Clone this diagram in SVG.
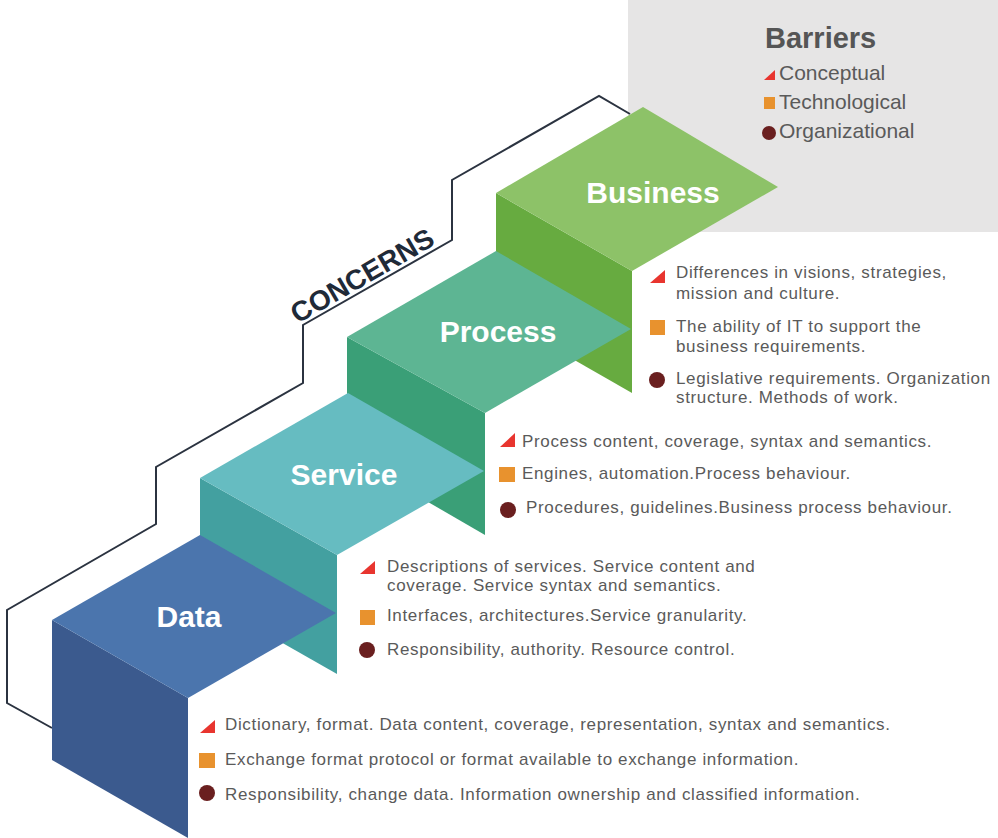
<svg xmlns="http://www.w3.org/2000/svg" width="998" height="838" viewBox="0 0 998 838">
<style>
.lbl{font-family:"Liberation Sans",Arial,sans-serif;font-weight:bold;font-size:30px;fill:#ffffff;text-anchor:middle}
.txt{font-family:"Liberation Sans",Arial,sans-serif;font-size:17px;letter-spacing:0.65px;fill:#5a5a5a}
.leg{font-family:"Liberation Sans",Arial,sans-serif;font-size:21px;fill:#5a5a5a}
.tri{fill:#e8352f}
.sq{fill:#e8922e}
.dot{fill:#6a1f1f}
.outline{fill:none;stroke:#2b3340;stroke-width:2}
</style>
<rect x="0" y="0" width="998" height="838" fill="#ffffff"/>

<g id="legend">
<rect x="628" y="0" width="370" height="232" fill="#e6e5e5"/>
<text x="765" y="48" style="font-family:'Liberation Sans',Arial,sans-serif;font-weight:bold;font-size:29px;fill:#555555">Barriers</text>
<polygon class="tri" points="764,80 775,80 775,70"/>
<text class="leg" x="779" y="80">Conceptual</text>
<rect class="sq" x="764" y="97" width="11" height="12"/>
<text class="leg" x="779" y="109">Technological</text>
<circle class="dot" cx="769" cy="133" r="7"/>
<text class="leg" x="779" y="138">Organizational</text>
</g>

<g id="connectors">
<polyline class="outline" points="630,114 599,96 452,180 452,240 303,325 303,383 156,467 156,524 7,610 7,703 52,728"/>
</g>

<g id="concerns-label">
<text transform="translate(367,284) rotate(-30)" text-anchor="middle" style="font-family:'Liberation Sans',Arial,sans-serif;font-weight:bold;font-size:28px;fill:#1f2a38">CONCERNS</text>
</g>

<g id="business">
<polygon points="496,193 632,271 632,393 496,315" fill="#67ab40"/>
<polygon points="496,193 643,107 778,187 632,271" fill="#8dc268"/>
<text class="lbl" x="653" y="203">Business</text>
</g>

<g id="process">
<polygon points="347,337 485,413 485,535 347,455" fill="#3a9f77"/>
<polygon points="347,337 496,251 631,329 485,413" fill="#5db593"/>
<text class="lbl" x="498" y="342">Process</text>
</g>

<g id="service">
<polygon points="200,478 337,555 337,674 200,596" fill="#43a0a0"/>
<polygon points="200,478 348,393 484,471 337,555" fill="#66bcc1"/>
<text class="lbl" x="344" y="485">Service</text>
</g>

<g id="data">
<polygon points="52,620 188,698 188,838 52,760" fill="#3b5a8e"/>
<polygon points="52,620 200,535 336,613 188,698" fill="#4b75ad"/>
<text class="lbl" x="189" y="627">Data</text>
</g>

<g id="business-barriers">
<polygon class="tri" points="650,283 665,283 665,270"/>
<text class="txt" x="676" y="278">Differences in visions, strategies,</text>
<text class="txt" x="676" y="299">mission and culture.</text>
<rect class="sq" x="650" y="320" width="15" height="15"/>
<text class="txt" x="676" y="332">The ability of IT to support the</text>
<text class="txt" x="676" y="352">business requirements.</text>
<circle class="dot" cx="657" cy="380" r="8"/>
<text class="txt" x="676" y="384">Legislative requirements. Organization</text>
<text class="txt" x="676" y="403">structure. Methods of work.</text>
</g>

<g id="process-barriers">
<polygon class="tri" points="500,447 515,447 515,433"/>
<text class="txt" x="522" y="447">Process content, coverage, syntax and semantics.</text>
<rect class="sq" x="499" y="467" width="16" height="15"/>
<text class="txt" x="522" y="479">Engines, automation.Process behaviour.</text>
<circle class="dot" cx="508" cy="510" r="8"/>
<text class="txt" x="526" y="513">Procedures, guidelines.Business process behaviour.</text>
</g>

<g id="service-barriers">
<polygon class="tri" points="360,574 375,574 375,561"/>
<text class="txt" x="387" y="572">Descriptions of services. Service content and</text>
<text class="txt" x="387" y="591">coverage. Service syntax and semantics.</text>
<rect class="sq" x="360" y="610" width="15" height="15"/>
<text class="txt" x="387" y="621">Interfaces, architectures.Service granularity.</text>
<circle class="dot" cx="367" cy="650" r="8"/>
<text class="txt" x="387" y="655">Responsibility, authority. Resource control.</text>
</g>

<g id="data-barriers">
<polygon class="tri" points="200,733 215,733 215,720"/>
<text class="txt" x="225" y="730">Dictionary, format. Data content, coverage, representation, syntax and semantics.</text>
<rect class="sq" x="199" y="753" width="16" height="15"/>
<text class="txt" x="225" y="765">Exchange format protocol or format available to exchange information.</text>
<circle class="dot" cx="207" cy="793" r="8"/>
<text class="txt" x="225" y="800">Responsibility, change data. Information ownership and classified information.</text>
</g>
</svg>
